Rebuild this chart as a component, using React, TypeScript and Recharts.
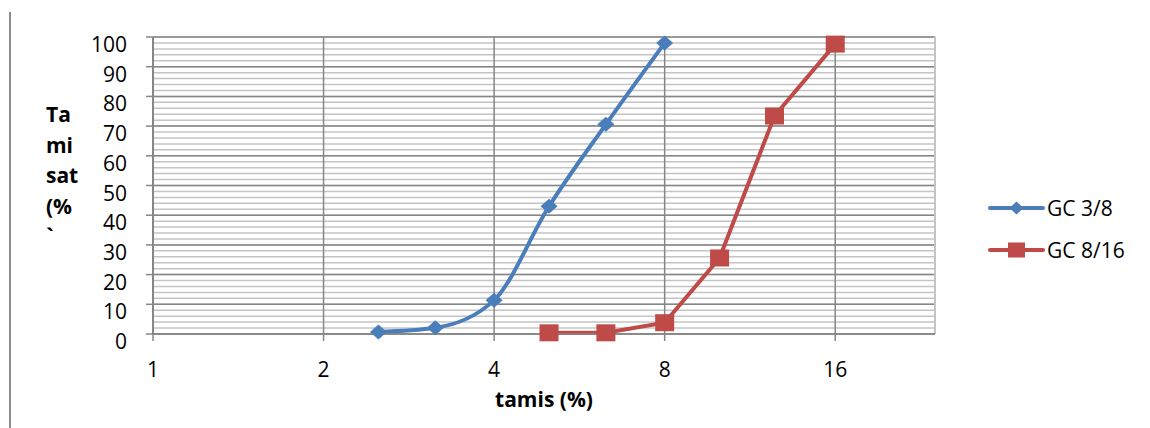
import { LineChart, Line, XAxis, YAxis, CartesianGrid, Legend } from 'recharts';

// sieve opening (mm) and percent passing
const sizesGc38 = [2.5, 3.15, 4, 5, 6.3, 8];
const passingGc38 = [0.7, 2.1, 11.4, 43, 70.6, 98];
const sizesGc816 = [5, 6.3, 8, 10, 12.5, 16];
const passingGc816 = [0.4, 0.4, 3.8, 25.6, 73.4, 97.6];

const xTicks = [1, 2, 4, 8, 16];
const yTicks = [0, 10, 20, 30, 40, 50, 60, 70, 80, 90, 100];
const yLabelLines = ['Ta', 'mi', 'sat', '(%', '`'];

const gc38 = sizesGc38.map((size, i) => ({ size, pct: passingGc38[i] }));
const gc816 = sizesGc816.map((size, i) => ({ size, pct: passingGc816[i] }));

// minor grid every 2 units
const minorY = Array.from({ length: 51 }, (_, i) => i * 2);

const FONT = "'Open Sans', 'Liberation Sans', sans-serif";
const BLUE = '#4a7ebb';
const RED = '#be4b48';
const DARK = '#868686';
const LIGHT = '#c4c4c4';

const diamond = (cx: number, cy: number, w: number, h: number, color: string) => (
  <path d={`M${cx - w},${cy}L${cx},${cy - h}L${cx + w},${cy}L${cx},${cy + h}Z`} fill={color} />
);
const square = (cx: number, cy: number, w: number, h: number, color: string) => (
  <rect x={cx - w} y={cy - h} width={w * 2} height={h * 2} fill={color} />
);

const BlueDot = (p: any) => <g key={`b${p.index}`}>{diamond(p.cx, p.cy, 8.5, 7.5, BLUE)}</g>;
const RedDot = (p: any) => <g key={`r${p.index}`}>{square(p.cx, p.cy, 9.5, 8.5, RED)}</g>;

const YTick = ({ x, y, payload }: any) => (
  <text x={x} y={y + 15} textAnchor="end" fontSize={21} fontFamily={FONT} fill="#000">
    {payload.value}
  </text>
);

const XTick = ({ x, y, payload }: any) => (
  <text x={x} y={y + 36} textAnchor="middle" fontSize={21} fontFamily={FONT} fill="#000">
    {payload.value}
  </text>
);

const YLabel = () => (
  <text fontSize={21} fontWeight="bold" fontFamily={FONT} fill="#000">
    {yLabelLines.map((t, i) => (
      <tspan key={t} x={46} y={122 + i * 30.5}>
        {t}
      </tspan>
    ))}
  </text>
);

const XLabel = ({ viewBox }: any) => (
  <text
    x={viewBox.x + viewBox.width / 2}
    y={viewBox.y + 73}
    textAnchor="middle"
    fontSize={21}
    fontWeight="bold"
    fontFamily={FONT}
    fill="#000"
  >
    tamis (%)
  </text>
);

const LegendBox = ({ payload }: any) => (
  <div style={{ fontFamily: FONT, fontSize: 21, color: '#000' }}>
    {(payload || []).map((item: any) => (
      <div key={item.value} style={{ display: 'flex', alignItems: 'center', height: 42 }}>
        <svg width={57} height={22}>
          <line x1={2} y1={11} x2={55} y2={11} stroke={item.color} strokeWidth={4} strokeLinecap="round" />
          {item.value === 'GC 3/8' ? diamond(28.5, 11, 7, 6.5, item.color) : square(28.5, 11, 8.5, 7.5, item.color)}
        </svg>
        <span style={{ marginLeft: 2, whiteSpace: 'nowrap' }}>{item.value}</span>
      </div>
    ))}
  </div>
);

const minorGridRows = ({ offset }: any) =>
  minorY.map((v) => offset.top + offset.height * (1 - v / 100));

export default function App() {
  return (
    <div style={{ position: 'absolute', left: 0, top: 0, width: 1150, height: 428, background: '#fff' }}>
      <div style={{ position: 'absolute', left: 9, top: 12, width: 2, height: 416, background: '#8c8c8c' }} />
      <LineChart width={1150} height={428} margin={{ top: 37, right: 215, bottom: 14, left: 0 }}>
        <CartesianGrid
          vertical={false}
          horizontalCoordinatesGenerator={minorGridRows}
          stroke={LIGHT}
          strokeWidth={1.5}
        />
        <CartesianGrid horizontalValues={yTicks} vertical={false} stroke={DARK} strokeWidth={1.5} />
        <CartesianGrid verticalValues={xTicks} horizontal={false} stroke={DARK} strokeWidth={1.5} />
        <CartesianGrid verticalValues={[24]} horizontal={false} stroke={LIGHT} strokeWidth={2} />
        <XAxis
          dataKey="size"
          type="number"
          scale="log"
          domain={[1, 24]}
          ticks={xTicks}
          allowDataOverflow
          height={80}
          tickSize={7}
          tickMargin={0}
          axisLine={{ stroke: DARK, strokeWidth: 1.5 }}
          tickLine={{ stroke: DARK, strokeWidth: 1.5 }}
          tick={<XTick />}
          label={{ content: <XLabel /> }}
        />
        <YAxis
          type="number"
          domain={[0, 100]}
          ticks={yTicks}
          width={153}
          tickSize={7}
          tickMargin={19}
          axisLine={{ stroke: DARK, strokeWidth: 2 }}
          tickLine={{ stroke: DARK, strokeWidth: 1.5 }}
          tick={<YTick />}
          label={{ content: <YLabel /> }}
        />
        <Legend
          layout="vertical"
          align="center"
          verticalAlign="middle"
          wrapperStyle={{ left: 988, top: 187, width: 162 }}
          content={<LegendBox />}
        />
        <Line
          data={gc38}
          dataKey="pct"
          name="GC 3/8"
          type="monotone"
          stroke={BLUE}
          strokeWidth={4}
          dot={BlueDot}
          activeDot={false}
          isAnimationActive={false}
        />
        <Line
          data={gc816}
          dataKey="pct"
          name="GC 8/16"
          type="linear"
          stroke={RED}
          strokeWidth={4}
          dot={RedDot}
          activeDot={false}
          isAnimationActive={false}
        />
      </LineChart>
    </div>
  );
}
